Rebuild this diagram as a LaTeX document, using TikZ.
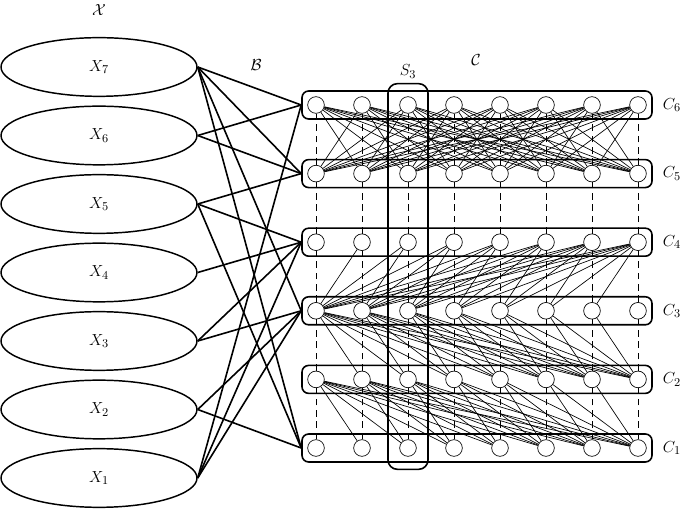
\documentclass[tikz,border=0pt]{standalone}
\usepackage{amsmath}
\usepackage{amsfonts}
\usetikzlibrary{shapes.geometric, fit, positioning}
\tikzset{font=\fontsize{13}{15}\selectfont}
\tikzstyle{var} = [ellipse, minimum width=147pt, minimum height=44pt,%
inner sep=0pt, draw=black, line width=1.1pt]
\tikzstyle{unit} = [circle, minimum size=12.5pt, inner sep=0pt,%
draw=black, fill=white, line width=0.5pt]
\tikzstyle{group} = [rectangle, rounded corners=5pt, draw=black,%
line width=1.2pt, inner sep=4pt]
\tikzstyle{bond} = [line width=1.2pt]
\tikzstyle{link} = [line width=0.5pt]
\tikzstyle{tie} = [dash pattern=on 5pt off 3.5pt, line width=0.5pt]

\begin{document}
\begin{tikzpicture}[x=0.75pt, y=0.75pt]
    \useasboundingbox (0,0) rectangle (685,510);

    % variables X_1 ... X_7
    \foreach \i in {1,...,7}
      \node (X\i) [var] at (99, {32+68.5*(\i-1)}) {$X_{\i}$};
    \node (setX) [above of=X7, node distance=43pt] {$\mathcal{X}$};

    % cells, one row per C_k
    \foreach \k in {1,...,6}
      \foreach \j in {1,...,8}
        \node (v\k-\j) [unit] at ({316+46*(\j-1)}, {62+68.6*(\k-1)}) {};

    \foreach \k in {1,...,6} {
      \node (C\k) [group, fit=(v\k-1)(v\k-8)] {};
      \node (labC\k) [right=4pt of C\k] {$C_{\k}$};
    }
    \node (S3) [group, rounded corners=7pt, fit=(v6-3)(v1-3),%
      inner xsep=8.5pt, inner ysep=9.5pt] {};
    \node (labS3) [above=0pt of S3] {$S_3$};

    \node (setB) at (256,445) {$\mathcal{B}$};
    \node (setC) at (476,450) {$\mathcal{C}$};

    % dashed columns
    \foreach \j in {1,...,8}
      \foreach \k in {1,...,5} {
        \pgfmathtruncatemacro\kn{\k+1}
        \draw [tie] (v\k-\j) -- (v\kn-\j);
      }

    % C6 -- C5, all but the same column
    \foreach \i in {1,...,8}
      \foreach \j in {1,...,8} {
        \ifnum\i=\j\relax\else
          \draw [link] (v6-\i) -- (v5-\j);
        \fi
      }

    % C3 -- C4, C3 -- C2, C2 -- C1
    \foreach \a/\b in {3/4, 3/2, 2/1}
      \foreach \j in {1,...,7} {
        \pgfmathtruncatemacro\jn{\j+1}
        \foreach \i in {\jn,...,8}
          \draw [link] (v\a-\j) -- (v\b-\i);
      }

    % B: variables to rows
    \foreach \i/\k in {7/6, 7/5, 7/3, 7/1, 6/6, 6/5, 5/5, 5/4, 5/1,%
        4/4, 3/4, 3/3, 2/3, 2/1, 1/6, 1/4, 1/3}
      \draw [bond] (X\i.east) -- (C\k.west);
\end{tikzpicture}
\end{document}
